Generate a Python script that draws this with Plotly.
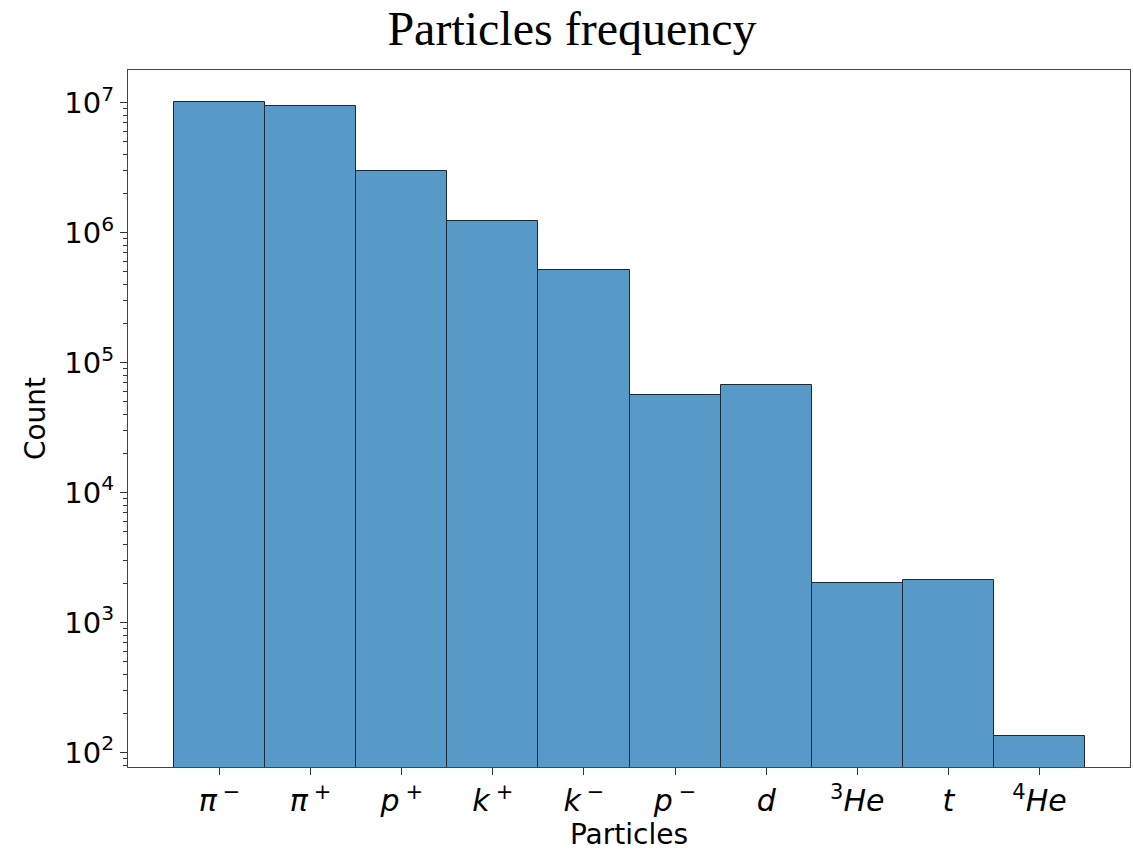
import plotly.graph_objects as go

particles = ["<i>π</i>\u2009<sup>−</sup>", "<i>π</i>\u2009<sup>+</sup>", "<i>p</i>\u2009<sup>+</sup>",
             "<i>k</i>\u2009<sup>+</sup>", "<i>k</i>\u2009<sup>−</sup>", "<i>p</i>\u2009<sup>−</sup>",
             "<i>d</i>", "<sup>3</sup><i>He</i>", "<i>t</i>", "<sup>4</sup><i>He</i>"]
counts = [1.02e7, 9.5e6, 2.97e6, 1.22e6, 5.2e5, 5.6e4, 6.7e4, 2.0e3, 2.14e3, 133]

ytick_vals = [1e2, 1e3, 1e4, 1e5, 1e6, 1e7]
ytick_text = ["10<sup>2</sup>", "10<sup>3</sup>", "10<sup>4</sup>", "10<sup>5</sup>", "10<sup>6</sup>", "10<sup>7</sup>"]
minor_vals = [k * 10 ** e for e in range(1, 8) for k in range(2, 10)]

x_idx = list(range(len(particles)))

fig = go.Figure(go.Bar(
    x=x_idx, y=counts, width=1,
    marker=dict(color="#5799c7", line=dict(color="#1c2a36", width=1)),
))

fig.update_layout(
    width=1133, height=852,
    margin=dict(l=128, r=3, t=70, b=85),
    paper_bgcolor="white", plot_bgcolor="white",
    bargap=0, showlegend=False,
    title=dict(text="Particles frequency", xref="paper", xanchor="center",
               y=1 - 28 / 852, yref="container", yanchor="middle",
               font=dict(family="Liberation Serif", size=48, color="black")),
    font=dict(family="DejaVu Sans", color="black"),
)
fig.update_layout(title_x=0.5 - (629 - 572) / 1002)

fig.update_xaxes(
    range=[-1.005, 9.994], tickmode="array", tickvals=x_idx, ticktext=particles,
    ticks="outside", ticklen=7, tickcolor="#333", tickfont=dict(size=30),
    showline=True, linecolor="#444", linewidth=1.2, mirror=True, showgrid=False, zeroline=False,
    title=dict(text="Particles", font=dict(size=28), standoff=6),
)
fig.update_yaxes(
    type="log", range=[1.888, 7.251], tickmode="array", tickvals=ytick_vals, ticktext=ytick_text,
    ticks="outside", ticklen=7, tickcolor="#333", tickfont=dict(size=29),
    minor=dict(tickmode="array", tickvals=minor_vals, ticks="outside", ticklen=4, tickcolor="#333", showgrid=False),
    showline=True, linecolor="#444", linewidth=1.2, mirror=True, showgrid=False, zeroline=False,
    title=dict(text="Count", font=dict(size=28), standoff=10),
)

fig.write_html("out.html")
